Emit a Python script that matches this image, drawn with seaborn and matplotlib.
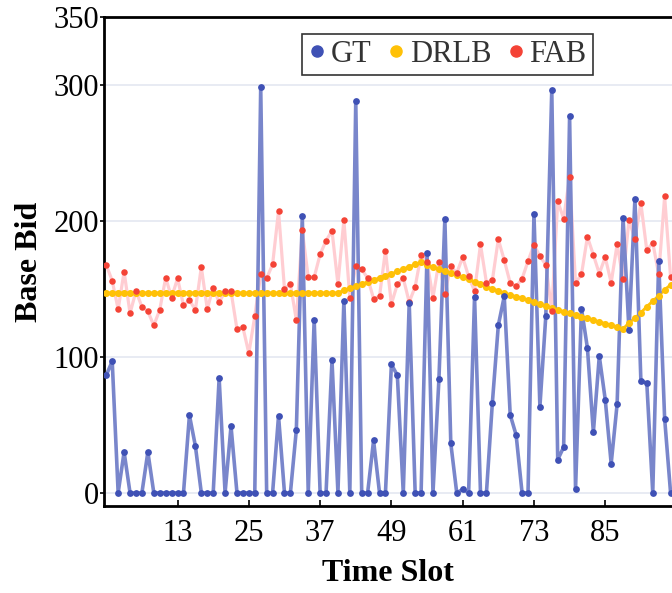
import numpy as np
import pandas as pd
import seaborn as sns
import matplotlib.pyplot as plt
from matplotlib.lines import Line2D

# values
slots = np.arange(1, 97)

gt = [86.5, 96.7, 0, 30, 0, 0, 0, 30, 0, 0, 0, 0, 0, 0, 57, 34.5,
      0, 0, 0, 84.3, 0, 49, 0, 0, 0, 0, 298.5, 0, 0, 56.5, 0, 0,
      46.5, 203.3, 0, 127.4, 0, 0, 97.4, 0, 141.3, 0, 288.2, 0, 0, 38.5, 0, 0,
      94.4, 86.5, 0, 139.6, 0, 0, 176.2, 0, 83.4, 201.5, 36.4, 0, 2.5, 0, 144.2, 0,
      0, 66.3, 123.2, 144.5, 57.4, 42.5, 0, 0, 205.4, 63.3, 130.4, 296.3, 24.4, 33.6, 277.2, 2.5,
      135.5, 106.5, 44.5, 100.5, 68.6, 21.5, 65.2, 202.4, 119.5, 216.4, 82.5, 80.6, 0, 170.4, 54.6, 0]

drlb = [147, 147, 147, 147, 147, 147, 147, 147, 147, 147, 147, 147, 147, 147, 147, 147,
        147, 147, 147, 147, 147, 147, 147, 147, 147, 147, 147, 147, 147, 147, 147, 147,
        147, 147, 147, 147, 147, 147, 147, 147, 149, 150.5, 152, 153.5, 155, 156.5, 158, 159.7,
        161, 162.8, 164.5, 166.3, 168, 169.5, 167.5, 166, 164.5, 163, 161.5, 160, 158.5, 157, 155, 153.5,
        151.5, 150, 148.6, 147, 145.5, 144.3, 143, 141.6, 140, 138.6, 137.4, 136, 134.7, 133.3, 132, 130.8,
        129.6, 128.4, 127.2, 125.7, 124.5, 123.3, 122, 120.6, 125, 128.6, 132.5, 137, 141, 145, 149.4, 153]

fab = [167.5, 156, 135, 162.7, 132, 148.3, 136.8, 133.5, 123.1, 134.6, 158.2, 143.6, 157.8, 137.8, 141.7, 134.6,
       166.1, 135.2, 151, 140.1, 148.2, 148.2, 120.5, 121.8, 102.6, 130, 160.6, 157.8, 168, 207.3, 150, 153.5,
       127, 193, 158.5, 158.5, 175.4, 185.4, 192.8, 153.5, 200.7, 143.5, 166.5, 164.3, 158, 142.8, 144.6, 178.2,
       138.9, 153.4, 157.8, 140.2, 151.6, 175, 170, 143.6, 170, 146.6, 166.8, 161.6, 173.3, 159.2, 148.4, 182.7,
       154.6, 156.4, 186.5, 171.1, 154.3, 151.8, 157.4, 170.4, 182.4, 174, 167.7, 133.7, 214.4, 201.7, 232.5, 154.5,
       160.6, 188.3, 175, 161.3, 173.3, 154.5, 182.7, 157.2, 200.7, 186.6, 213, 178.3, 184.1, 160.7, 218, 158.5]

xticks = [13, 25, 37, 49, 61, 73, 85]
yticks = [0, 100, 200, 300, 350]

df = pd.DataFrame({'slot': slots, 'GT': gt, 'DRLB': drlb, 'FAB': fab})

sns.set_theme(style='white')
plt.rcParams['font.family'] = ['Liberation Serif', 'DejaVu Serif']

fig = plt.figure(figsize=(6.72, 5.93), dpi=100)
ax = fig.add_axes([0.1555, 0.146, 0.8445, 0.8254])

# lines first, dots on top
sns.lineplot(data=df, x='slot', y='FAB', color='#FFCDD2', lw=2.3, ax=ax, zorder=2)
sns.lineplot(data=df, x='slot', y='DRLB', color='#FFC107', lw=2.0, ax=ax, zorder=3)
sns.lineplot(data=df, x='slot', y='GT', color='#7986CB', lw=2.6, ax=ax, zorder=4)
sns.scatterplot(data=df, x='slot', y='DRLB', color='#FFC107', s=26, linewidth=0, ax=ax, zorder=5)
sns.scatterplot(data=df, x='slot', y='FAB', color='#F44336', s=22, linewidth=0, ax=ax, zorder=6)
sns.scatterplot(data=df, x='slot', y='GT', color='#3F51B5', s=24, linewidth=0, ax=ax, zorder=7)

ax.set_xlim(0.7, 96.24)
ax.set_ylim(-10, 350)
ax.set_xticks(xticks)
ax.set_yticks(yticks)
ax.yaxis.grid(True, color='#E4E8F1', lw=1.2)
ax.set_axisbelow(True)

for s in ['left', 'bottom', 'top']:
    ax.spines[s].set_color('black')
    ax.spines[s].set_linewidth(2)
ax.spines['right'].set_visible(False)

ax.tick_params(axis='both', width=1.2, colors='black', labelsize=22, bottom=True, left=True)
ax.tick_params(axis='y', direction='out', length=3, pad=1)
ax.tick_params(axis='x', direction='in', length=4.5, pad=9)

ax.set_xlabel('Time Slot', fontsize=23, fontweight='bold', color='black', labelpad=8)
ax.set_ylabel('Base Bid', fontsize=23, fontweight='bold', color='black', labelpad=7)

handles = [Line2D([], [], ls='', marker='o', ms=8, color=c, mec=c)
           for c in ['#3F51B5', '#FFC107', '#F44336']]
leg = ax.legend(handles, ['GT', 'DRLB', 'FAB'], loc='upper center', bbox_to_anchor=(0.604, 0.997),
                ncol=3, frameon=True, fancybox=False, fontsize=22, handlelength=0.6,
                handletextpad=0.15, columnspacing=0.5, borderpad=0.2, labelcolor='#333333')
leg.get_frame().set_edgecolor('black')
leg.get_frame().set_linewidth(1.2)

fig.savefig('out.png', dpi=100)
